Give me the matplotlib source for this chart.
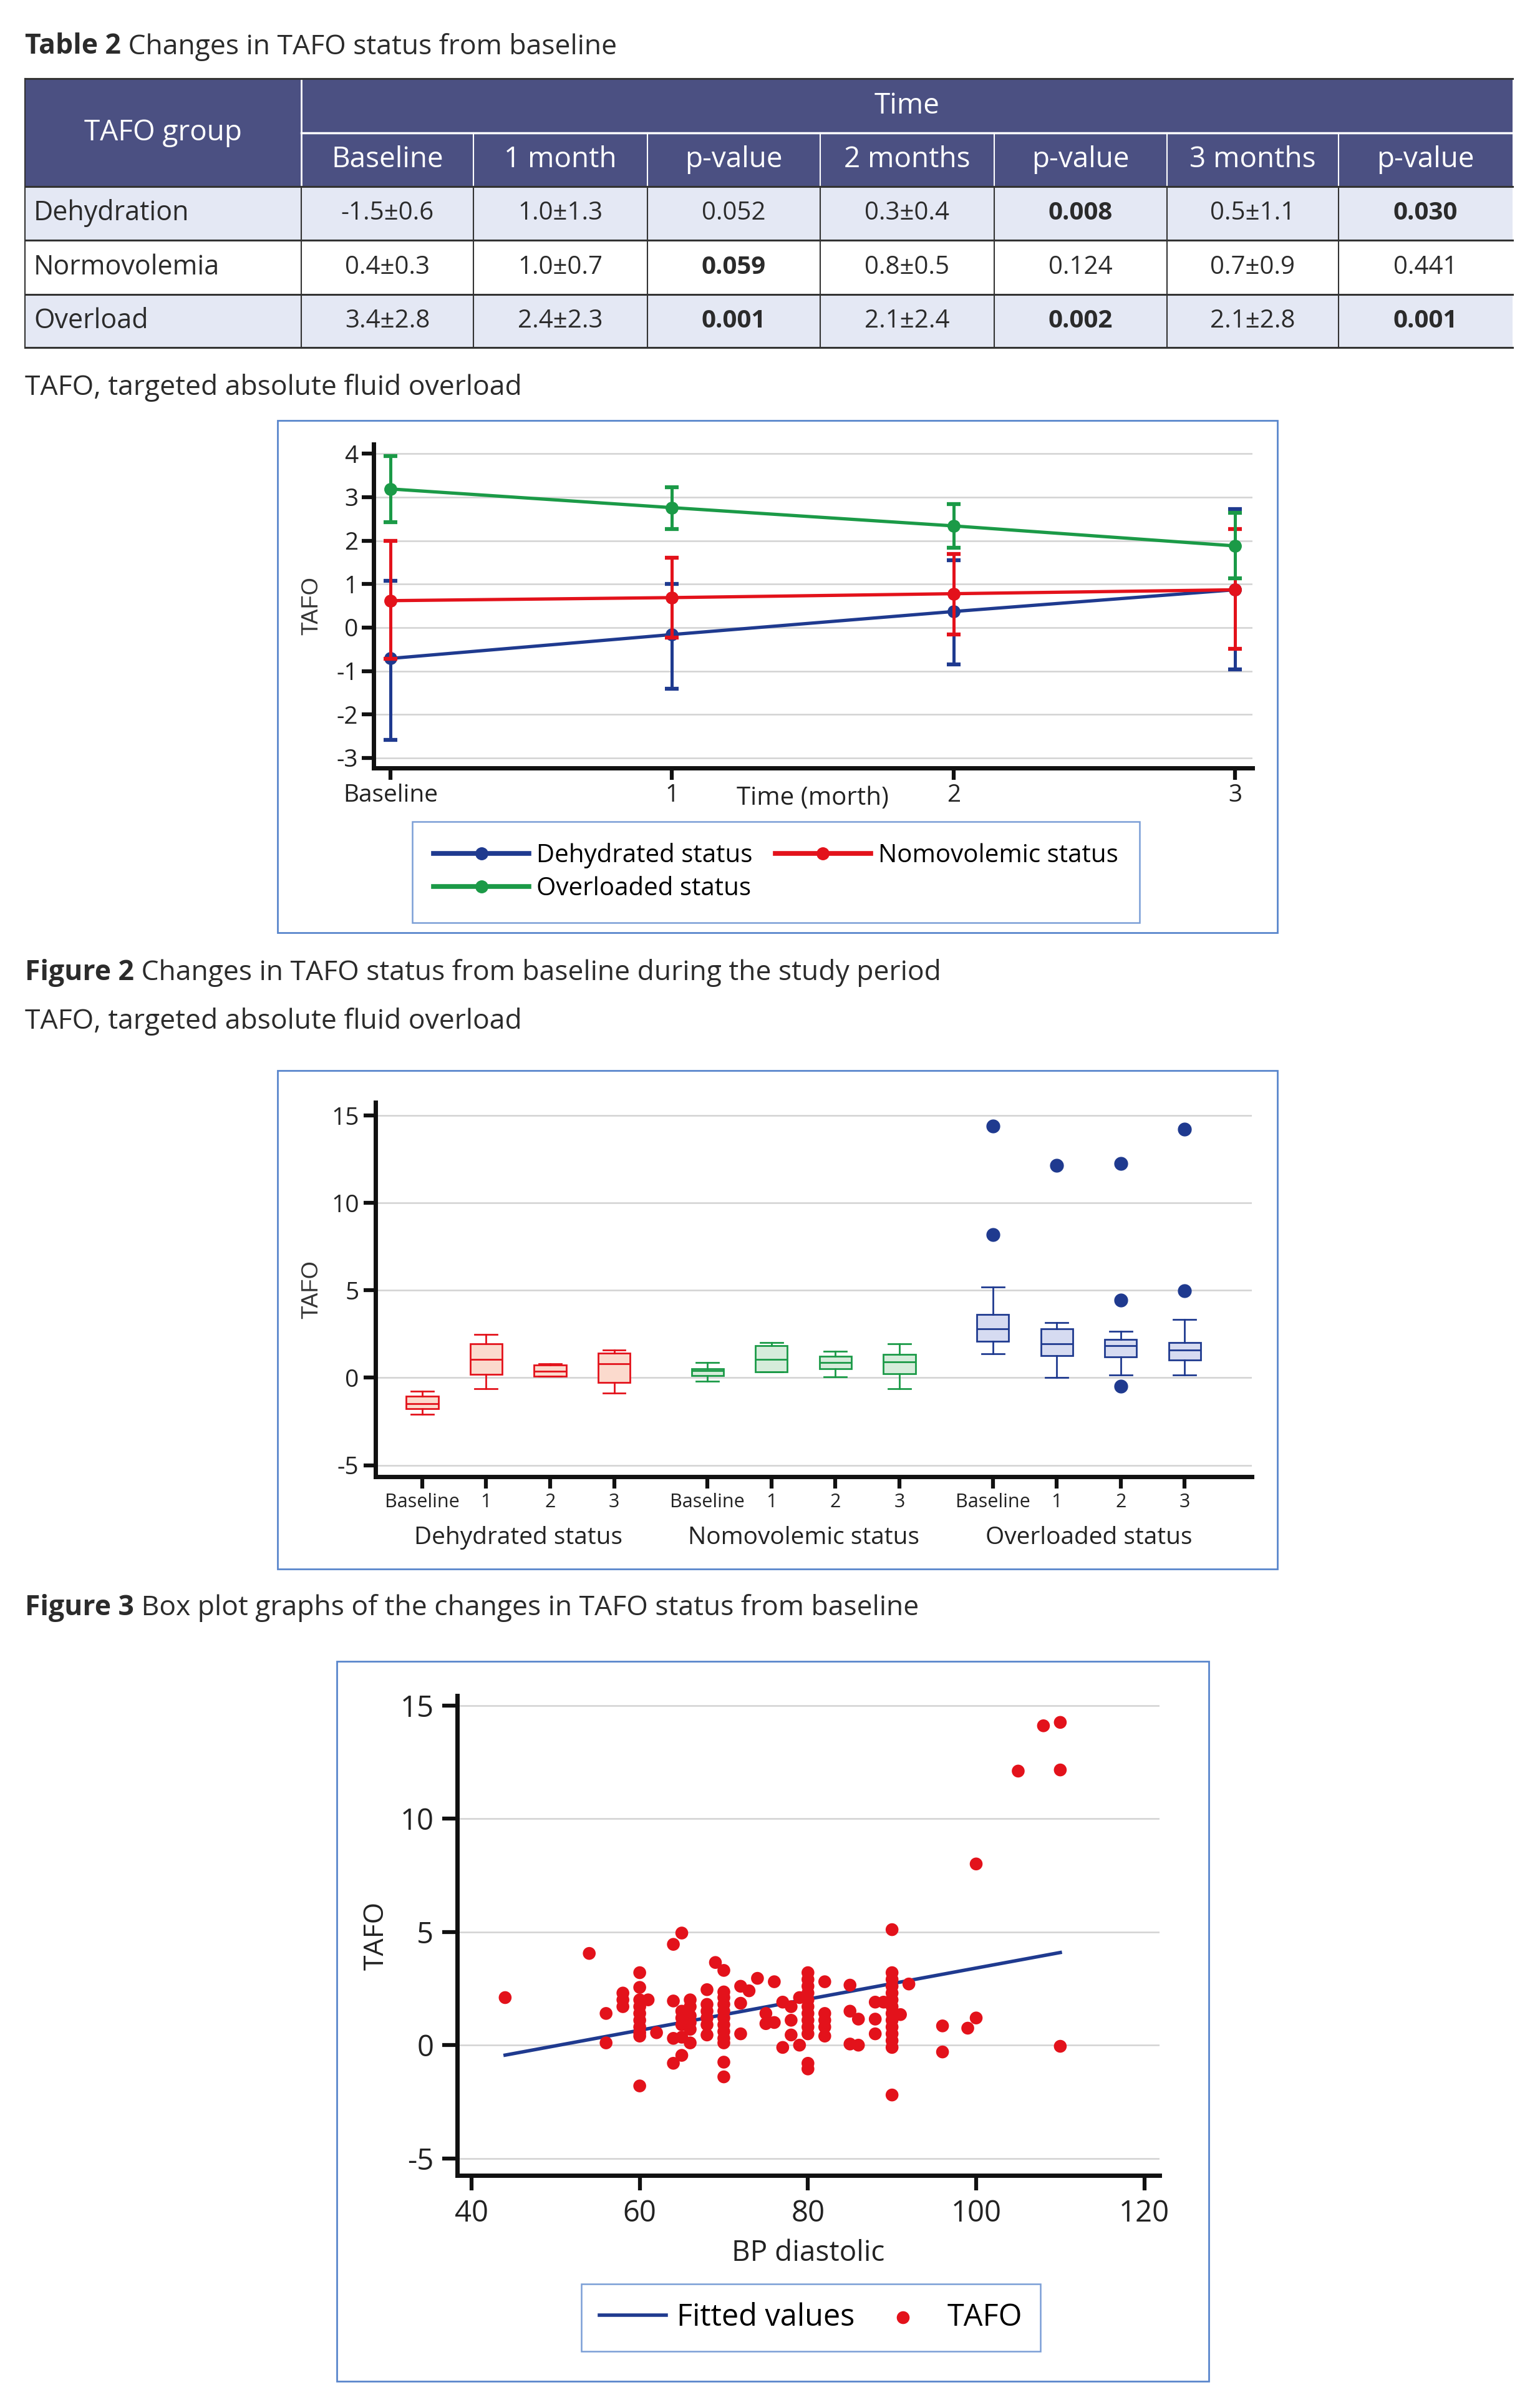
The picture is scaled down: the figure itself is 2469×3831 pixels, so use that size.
import numpy as np
import matplotlib
matplotlib.use('Agg')
import matplotlib.pyplot as plt
from matplotlib.patches import Rectangle

plt.rcParams['font.family'] = ['Open Sans', 'DejaVu Sans']
plt.rcParams['axes.unicode_minus'] = False

# ---- table 2 ----
table_groups = ['Dehydration', 'Normovolemia', 'Overload']
table_heads = ['Baseline', '1 month', 'p-value', '2 months', 'p-value', '3 months', 'p-value']
table_rows = [
    ['-1.5±0.6', '1.0±1.3', '0.052', '0.3±0.4', '0.008', '0.5±1.1', '0.030'],
    ['0.4±0.3', '1.0±0.7', '0.059', '0.8±0.5', '0.124', '0.7±0.9', '0.441'],
    ['3.4±2.8', '2.4±2.3', '0.001', '2.1±2.4', '0.002', '2.1±2.8', '0.001'],
]
table_bold = [
    [0, 0, 0, 0, 1, 0, 1],
    [0, 0, 1, 0, 0, 0, 0],
    [0, 0, 1, 0, 1, 0, 1],
]

# ---- figure 2: mean with error bars ----
time_pos = [0, 1, 2, 3]
time_labels = ['Baseline', '1', '2', '3']
dehyd_mean = [-0.71, -0.16, 0.37, 0.87]
dehyd_lo = [-2.58, -1.41, -0.85, -0.96]
dehyd_hi = [1.08, 1.01, 1.55, 2.72]
normo_mean = [0.62, 0.69, 0.78, 0.87]
normo_lo = [-0.72, -0.23, -0.16, -0.49]
normo_hi = [2.00, 1.61, 1.69, 2.27]
over_mean = [3.19, 2.76, 2.34, 1.88]
over_lo = [2.43, 2.27, 1.83, 1.14]
over_hi = [3.95, 3.23, 2.84, 2.64]

# ---- figure 3: box plots ----
box_groups = ['Dehydrated status', 'Nomovolemic status', 'Overloaded status']
dehyd_q1 = [-1.76, 0.18, 0.08, -0.28]
dehyd_med = [-1.47, 1.05, 0.36, 0.80]
dehyd_q3 = [-1.04, 1.95, 0.72, 1.41]
dehyd_wlo = [-2.09, -0.62, 0.08, -0.87]
dehyd_whi = [-0.78, 2.48, 0.80, 1.59]
normo_q1 = [0.13, 0.32, 0.52, 0.23]
normo_med = [0.42, 1.05, 0.86, 0.90]
normo_q3 = [0.52, 1.85, 1.22, 1.32]
normo_wlo = [-0.21, 0.32, 0.06, -0.63]
normo_whi = [0.88, 2.02, 1.51, 1.93]
over_q1 = [2.10, 1.28, 1.18, 1.03]
over_med = [2.81, 1.93, 1.85, 1.60]
over_q3 = [3.61, 2.81, 2.19, 2.02]
over_wlo = [1.37, 0.00, 0.17, 0.17]
over_whi = [5.19, 3.17, 2.65, 3.32]
over_out = [[14.39, 8.19], [12.16], [12.25, 4.43, -0.48], [14.20, 4.98]]

# ---- figure 4: scatter TAFO vs BP diastolic ----
bp = [44, 54, 56, 56, 58, 58, 58,
      60, 60, 60, 60, 60, 60, 60, 60, 60, 60, 61, 62,
      64, 64, 64, 64, 65, 65, 65, 65, 65, 65,
      66, 66, 66, 66, 66, 66, 68, 68, 68, 68, 68, 68, 69,
      70, 70, 70, 70, 70, 70, 70, 70, 70, 70, 70, 70,
      72, 72, 72, 73, 74, 75, 75, 76, 76, 77, 77, 78, 78, 78, 79, 79,
      80, 80, 80, 80, 80, 80, 80, 80, 80, 80, 80, 80,
      82, 82, 82, 82, 82, 85, 85, 85, 86, 86, 88, 88, 88, 89,
      90, 90, 90, 90, 90, 90, 90, 90, 90, 90, 90, 90, 90, 90,
      91, 92, 96, 96, 99, 100, 100, 105, 108, 110, 110, 110]
tafo = [2.1, 4.05, 1.4, 0.1, 2.3, 2.0, 1.7,
        3.2, 2.55, 2.0, 1.7, 1.4, 1.1, 0.8, 0.55, 0.4, -1.8, 2.0, 0.55,
        4.45, 1.95, 0.3, -0.8, 4.95, 1.5, 1.2, 0.9, 0.35, -0.45,
        2.0, 1.7, 1.3, 1.0, 0.7, 0.1, 2.45, 1.8, 1.5, 1.2, 0.9, 0.45, 3.65,
        3.3, 2.35, 2.1, 1.8, 1.5, 1.2, 0.9, 0.6, 0.3, 0.1, -0.75, -1.4,
        2.6, 1.85, 0.5, 2.4, 2.95, 1.4, 0.95, 2.8, 1.0, 1.9, -0.1, 1.7, 1.1, 0.45, 2.1, 0.0,
        3.2, 2.9, 2.6, 2.3, 2.0, 1.7, 1.4, 1.1, 0.8, 0.5, -0.8, -1.05,
        2.8, 1.4, 1.1, 0.8, 0.4, 2.65, 1.5, 0.05, 1.15, 0.0, 1.9, 1.15, 0.5, 1.9,
        5.1, 3.2, 2.9, 2.6, 2.3, 2.0, 1.7, 1.4, 1.1, 0.8, 0.5, 0.2, -0.1, -2.2,
        1.35, 2.7, 0.85, -0.3, 0.75, 8.0, 1.2, 12.1, 14.1, 14.25, 12.15, -0.05]
fit_x = [44, 110]
fit_y = [-0.44, 4.09]

# colours
BLUE = '#1f3a8f'
RED = '#e3121b'
GREEN = '#1b9a47'
FRAME = '#5a86cc'
HEAD = '#4b5082'
ROWFILL = '#e4e8f4'
TXT = '#2b2b2b'
GRID = '#d2d2d2'

W, H = 2469, 3831
fig = plt.figure(figsize=(W / 100, H / 100), dpi=100)

bg = fig.add_axes([0, 0, 1, 1])
bg.set_xlim(0, W)
bg.set_ylim(H, 0)
bg.axis('off')


def px_axes(x0, y0, x1, y1):
    return fig.add_axes([x0 / W, 1 - y1 / H, (x1 - x0) / W, (y1 - y0) / H])


def caption(y, bold, rest, size=32):
    t = bg.text(40, y, bold, fontsize=size, fontweight='bold', color=TXT, va='center')
    bg.annotate(rest, xy=(1, 0.5), xycoords=t, fontsize=size, color=TXT, va='center')


# ---------------- table ----------------
col_x = [40, 483, 759, 1038, 1315, 1594, 1871, 2146, 2425]
row_y = [126, 213, 299, 385, 472, 557]

caption(75, 'Table 2', ' Changes in TAFO status from baseline')

bg.add_patch(Rectangle((col_x[0], row_y[0]), col_x[-1] - col_x[0], row_y[2] - row_y[0],
                       facecolor=HEAD, edgecolor='none'))
for i in range(3):
    fc = ROWFILL if i != 1 else 'white'
    bg.add_patch(Rectangle((col_x[0], row_y[i + 2]), col_x[-1] - col_x[0], row_y[i + 3] - row_y[i + 2],
                           facecolor=fc, edgecolor='none'))
# header white rules
bg.plot([col_x[1], col_x[1]], [row_y[0], row_y[2]], color='white', lw=2)
bg.plot([col_x[1], col_x[-1]], [row_y[1], row_y[1]], color='white', lw=2.5)
for cx in col_x[2:-1]:
    bg.plot([cx, cx], [row_y[1], row_y[2]], color='white', lw=1.5)
# body rules
for ry in row_y[2:]:
    bg.plot([col_x[0], col_x[-1]], [ry, ry], color='#333333', lw=2.2)
bg.plot([col_x[0], col_x[-1]], [row_y[0], row_y[0]], color='#333333', lw=2.2)
for cx in col_x[1:-1]:
    bg.plot([cx, cx], [row_y[2], row_y[-1]], color='#333333', lw=1.5)
bg.plot([col_x[0], col_x[0]], [row_y[0], row_y[-1]], color='#333333', lw=1.5)

bg.text((col_x[0] + col_x[1]) / 2, (row_y[0] + row_y[2]) / 2, 'TAFO group',
        color='white', fontsize=33, ha='center', va='center')
bg.text((col_x[1] + col_x[-1]) / 2, (row_y[0] + row_y[1]) / 2, 'Time',
        color='white', fontsize=33, ha='center', va='center')
for j, hd in enumerate(table_heads):
    bg.text((col_x[j + 1] + col_x[j + 2]) / 2, (row_y[1] + row_y[2]) / 2, hd,
            color='white', fontsize=33, ha='center', va='center')
for i, grp in enumerate(table_groups):
    yc = (row_y[i + 2] + row_y[i + 3]) / 2
    bg.text(col_x[0] + 14, yc, grp, color=TXT, fontsize=31, ha='left', va='center')
    for j, val in enumerate(table_rows[i]):
        bg.text((col_x[j + 1] + col_x[j + 2]) / 2, yc, val, color=TXT, fontsize=29,
                ha='center', va='center', fontweight='bold' if table_bold[i][j] else 'normal')

bg.text(40, 622, 'TAFO, targeted absolute fluid overload', fontsize=32, color=TXT, va='center')

# frames
bg.add_patch(Rectangle((445, 674), 2048 - 445, 1495 - 674, fill=False, edgecolor=FRAME, lw=2))
bg.add_patch(Rectangle((445, 1716), 2048 - 445, 2515 - 1716, fill=False, edgecolor=FRAME, lw=2))
bg.add_patch(Rectangle((540, 2663), 1938 - 540, 3817 - 2663, fill=False, edgecolor=FRAME, lw=2))


def style_axes(ax, labelsize, tick_len, pad):
    for s in ['top', 'right']:
        ax.spines[s].set_visible(False)
    for s in ['left', 'bottom']:
        ax.spines[s].set_linewidth(5)
        ax.spines[s].set_color('#111111')
    ax.tick_params(direction='out', length=tick_len, width=4.5, labelsize=labelsize,
                   pad=pad, colors='#111111', labelcolor='#222222')
    ax.yaxis.grid(True, color=GRID, lw=1.8)
    ax.set_axisbelow(True)
    ax.set_facecolor('none')


# ---------------- figure 2 ----------------
ax2 = px_axes(599, 712, 2008, 1231)
series = [
    ('Dehydrated status', dehyd_mean, dehyd_lo, dehyd_hi, BLUE),
    ('Nomovolemic status', normo_mean, normo_lo, normo_hi, RED),
    ('Overloaded status', over_mean, over_lo, over_hi, GREEN),
]
handles = {}
for name, m, lo, hi, c in series:
    m = np.array(m)
    err = [m - np.array(lo), np.array(hi) - m]
    ax2.errorbar(time_pos, m, yerr=err, fmt='none', ecolor=c, elinewidth=3.6,
                 capsize=8, capthick=4.5)
    ln, = ax2.plot(time_pos, m, '-o', color=c, lw=3.8, ms=14, label=name)
    handles[name] = ln
ax2.set_xlim(-0.06, 3.062)
ax2.set_ylim(-3.23, 4.22)
ax2.set_yticks(range(-3, 5))
ax2.set_xticks(time_pos)
ax2.set_xticklabels(time_labels)
style_axes(ax2, 28, 14, 4)
ax2.annotate('Time (morth)', xy=(1.5, -0.093), xycoords=('data', 'axes fraction'),
             fontsize=29, color='#222222', ha='center', va='center')
ax2.set_ylabel('TAFO', family=['Liberation Sans', 'DejaVu Sans'], fontsize=26, color='#333333')
ax2.yaxis.set_label_coords(-0.058, 0.5)
order = ['Dehydrated status', 'Overloaded status', 'Nomovolemic status']
leg2 = ax2.legend([handles[k] for k in order], order, ncol=2,
                  loc='center', bbox_to_anchor=(1244 / W, 1 - 1398 / H),
                  bbox_transform=fig.transFigure, fontsize=29, frameon=True, fancybox=False,
                  edgecolor=FRAME, borderpad=0.85, labelspacing=0.3, handlelength=3.8,
                  handletextpad=0.3, columnspacing=0.9, borderaxespad=0)
leg2.get_frame().set_linewidth(1.8)
for h in leg2.legend_handles:
    h.set_linewidth(5.5)

caption(1559, 'Figure 2', ' Changes in TAFO status from baseline during the study period')
bg.text(40, 1637, 'TAFO, targeted absolute fluid overload', fontsize=32, color=TXT, va='center')

# ---------------- figure 3 ----------------
ax3 = px_axes(602, 1767, 2007, 2367)
group_gap = 4.46
box_sets = [
    (dehyd_q1, dehyd_med, dehyd_q3, dehyd_wlo, dehyd_whi, [[], [], [], []], RED, '#fbdacd'),
    (normo_q1, normo_med, normo_q3, normo_wlo, normo_whi, [[], [], [], []], GREEN, '#d6ecdb'),
    (over_q1, over_med, over_q3, over_wlo, over_whi, over_out, BLUE, '#d6dbf1'),
]
tick_pos, tick_lab = [], []
for g, (q1, med, q3, wlo, whi, outs, c, fc) in enumerate(box_sets):
    stats = []
    for t in range(4):
        stats.append(dict(q1=q1[t], med=med[t], q3=q3[t], whislo=wlo[t], whishi=whi[t],
                          fliers=outs[t]))
    pos = [g * group_gap + t for t in range(4)]
    tick_pos += pos
    tick_lab += time_labels
    ax3.bxp(stats, positions=pos, widths=0.5, capwidths=0.35, patch_artist=True,
            boxprops=dict(facecolor=fc, edgecolor=c, lw=2),
            medianprops=dict(color=c, lw=2),
            whiskerprops=dict(color=c, lw=2), capprops=dict(color=c, lw=2),
            flierprops=dict(marker='o', markerfacecolor=c, markeredgecolor=c, markersize=15))
    ax3.annotate(box_groups[g], xy=(g * group_gap + 1.5, -0.163), xycoords=('data', 'axes fraction'),
                 fontsize=28, color='#222222', ha='center', va='center')
ax3.set_xlim(-0.73, 12.97)
ax3.set_ylim(-5.66, 15.75)
ax3.set_yticks([-5, 0, 5, 10, 15])
ax3.set_xticks(tick_pos)
ax3.set_xticklabels(tick_lab)
style_axes(ax3, 28, 14, 5)
ax3.tick_params(axis='x', labelsize=22, length=14, pad=5)
ax3.set_ylabel('TAFO', family=['Liberation Sans', 'DejaVu Sans'], fontsize=26, color='#333333')
ax3.yaxis.set_label_coords(-0.060, 0.5)

caption(2578, 'Figure 3', ' Box plot graphs of the changes in TAFO status from baseline')

# ---------------- figure 4 ----------------
ax4 = px_axes(733, 2718, 1859, 3487)
ax4.plot(fit_x, fit_y, color=BLUE, lw=4, zorder=2, label='Fitted values')
ax4.scatter(bp, tafo, s=220, color=RED, edgecolors='none', zorder=3, label='TAFO')
ax4.set_xlim(38.3, 121.8)
ax4.set_ylim(-5.75, 15.43)
ax4.set_xticks([40, 60, 80, 100, 120])
ax4.set_yticks([-5, 0, 5, 10, 15])
style_axes(ax4, 34, 17, 10)
ax4.set_xlabel('BP diastolic', fontsize=33, color='#222222', labelpad=12)
ax4.set_ylabel('TAFO', fontsize=32, color='#222222')
ax4.yaxis.set_label_coords(-0.095, 0.5)
leg4 = ax4.legend(ncol=2, loc='center', bbox_to_anchor=(1300 / W, 1 - 3715 / H),
                  bbox_transform=fig.transFigure, fontsize=35, frameon=True, fancybox=False,
                  edgecolor=FRAME, borderpad=0.6, handlelength=2.2, handletextpad=0.35,
                  columnspacing=0.5, borderaxespad=0)
leg4.get_frame().set_linewidth(1.8)

fig.savefig('out.png', dpi=100)
